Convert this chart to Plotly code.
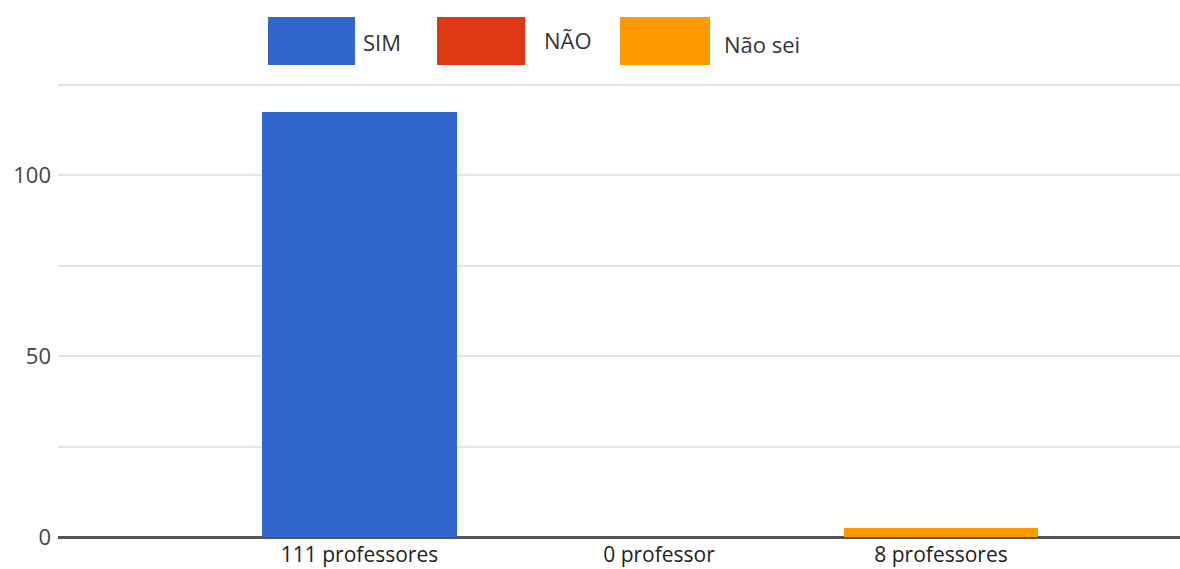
import plotly.graph_objects as go

# ---- data ----
series_names = ["SIM", "NÃO", "Não sei"]
series_values = [117.5, 0, 2.5]
category_labels = ["111 professores", "0 professor", "8 professores"]
series_colors = ["#3366cc", "#dc3912", "#ff9900"]
y_tick_vals = [0, 25, 50, 75, 100, 125]
y_tick_text = ["0", "", "50", "", "100", ""]

# ---- layout geometry (pixels) ----
W, H = 1180, 569
ML, MR, MT, MB = 58, 0, 83, 32
PW, PH = W - ML - MR, H - MT - MB

def px_x(p):
    return (p - ML) / PW

def px_y(p):
    return (H - MB - p) / PH

x_pos = list(range(len(series_names)))

fig = go.Figure()
for i, (name, val, col) in enumerate(zip(series_names, series_values, series_colors)):
    fig.add_trace(go.Bar(
        x=[x_pos[i]], y=[val], name=name,
        marker=dict(color=col, line=dict(width=0)),
        width=0.67, showlegend=False,
    ))

# custom legend with large swatches (as in the reference)
legend_swatch_px = [(268, 355), (437, 525), (620, 710)]
legend_text_px = [361, 542, 722]
legend_text_y = [42, 40, 44]
for (x0, x1), tx, ty, name, col in zip(legend_swatch_px, legend_text_px, legend_text_y,
                                       series_names, series_colors):
    fig.add_shape(type="rect", xref="paper", yref="paper",
                  x0=px_x(x0), x1=px_x(x1), y0=px_y(65), y1=px_y(17),
                  fillcolor=col, line=dict(width=0), layer="above")
    fig.add_annotation(xref="paper", yref="paper", x=px_x(tx), y=px_y(ty),
                       text=name, showarrow=False, xanchor="left", yanchor="middle",
                       font=dict(family="Open Sans", size=22, color="#333333"))

fig.update_layout(
    width=W, height=H,
    margin=dict(l=ML, r=MR, t=MT, b=MB),
    paper_bgcolor="white", plot_bgcolor="white",
    bargap=0, barmode="overlay",
    font=dict(family="Open Sans", size=22, color="#333333"),
)
fig.update_xaxes(
    range=[-1.037, 2.822], tickvals=[0, 1.03, 2], ticktext=category_labels,
    showgrid=False, zeroline=False, showline=False, ticks="",
    tickfont=dict(family="Open Sans", size=21, color="#222222"),
    ticklabelstandoff=3,
    automargin=False,
)
fig.update_yaxes(
    range=[0, 125.5], tickvals=y_tick_vals, ticktext=y_tick_text,
    showgrid=True, gridcolor="#e3e3e3", gridwidth=1.5,
    zeroline=True, zerolinecolor="#555555", zerolinewidth=2.5,
    showline=False, ticks="",
    tickfont=dict(family="Open Sans", size=22, color="#444444"),
    ticklabelstandoff=6,
    automargin=False,
)

fig.write_html("out.html", config={"displayModeBar": False},
               post_script="document.body.style.margin='0';")
